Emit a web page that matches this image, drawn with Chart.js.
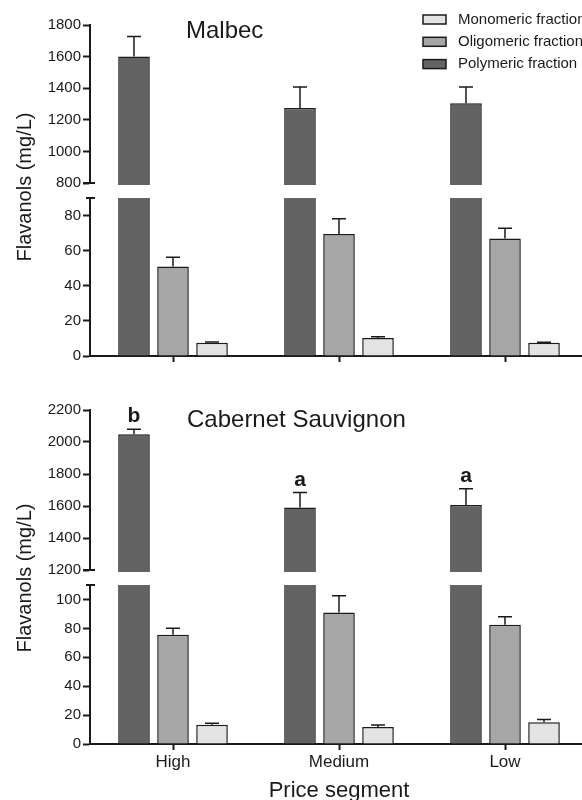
<!DOCTYPE html>
<html>
<head>
<meta charset="utf-8">
<script src="https://cdn.jsdelivr.net/npm/chart.js@4.4.1/dist/chart.umd.min.js"></script>
<style>
  html, body { margin: 0; padding: 0; background: #fff; }
  #wrap { position: relative; width: 582px; height: 800px; overflow: hidden; }
  #wrap canvas { position: absolute; left: 0; }
</style>
</head>
<body>
<div id="wrap">
  <canvas id="malbecLower" width="600" height="390" style="top:0px"></canvas>
  <canvas id="malbecUpper" width="600" height="200" style="top:0px"></canvas>
  <canvas id="cabLower" width="600" height="420" style="top:390px"></canvas>
  <canvas id="cabUpper" width="600" height="200" style="top:390px"></canvas>
</div>
<script>
const categories = ['High', 'Medium', 'Low'];
const seriesNames = ['Polymeric fraction', 'Oligomeric fraction', 'Monomeric fraction'];

// Malbec (mean, upper error)
const malbecPolymeric = [1600, 1275, 1305];
const malbecPolymericSd = [127, 132, 102];
const malbecOligomeric = [51, 69.5, 67];
const malbecOligomericSd = [5.2, 8.7, 5.8];
const malbecMonomeric = [7.5, 10.2, 7.6];
const malbecMonomericSd = [0.5, 0.8, 0.2];
const malbecUpperTicks = [800, 1800, 200];   // min, max, step
const malbecLowerTicks = [0, 90, 20];

// Cabernet Sauvignon
const cabPolymeric = [2048, 1590, 1606];
const cabPolymericSd = [31, 94, 102];
const cabOligomeric = [75.5, 91, 82.5];
const cabOligomericSd = [4.5, 11.5, 5.6];
const cabMonomeric = [13.4, 11.8, 15.1];
const cabMonomericSd = [1, 1.4, 1.8];
const cabLetters = ['b', 'a', 'a'];
const cabUpperTicks = [1200, 2200, 200];
const cabLowerTicks = [0, 110, 20];

const FONT = "'Liberation Sans', Arial, sans-serif";
const INK = '#1a1a1a';
const fills = ['#636363', '#a6a6a6', '#e3e3e3'];

function buildDatasets(values, part) {
    return values.map((v, i) => {
        const hide = part === 'top' && i > 0;
        return {
            label: seriesNames[i],
            data: v,
            backgroundColor: hide ? 'rgba(0,0,0,0)' : fills[i],
            borderColor: INK,
            borderWidth: hide ? 0 : 1.5,
            borderSkipped: part === 'top' ? false : 'start',
            clip: part === 'top' ? 2 : 0,
            categoryPercentage: 0.705,
            barPercentage: 0.81
        };
    });
}

function yAxis(t, lower) {
    return {
        min: t[0], max: t[1],
        border: { color: INK, width: 2 },
        grid: { drawOnChartArea: false, tickLength: 7, tickWidth: 2, tickColor: INK },
        ticks: { stepSize: t[2], includeBounds: !lower, color: INK, padding: 2,
                 font: { family: FONT, size: 15 },
                 callback: v => String(v) },
        afterFit(s) { s.width = 90; }
    };
}

function xAxis(mode, height) {
    if (mode === 'hidden') return { display: false };
    return {
        border: { color: INK, width: 2 },
        grid: { drawOnChartArea: false, offset: false, tickLength: 6, tickWidth: 2, tickColor: INK },
        ticks: { display: mode === 'labels', color: INK, padding: 2, font: { family: FONT, size: 17 } },
        title: { display: mode === 'labels', text: 'Price segment', color: INK,
                 font: { family: FONT, size: 22 }, padding: { top: 0, bottom: 6 } },
        afterFit(s) { s.height = height; }
    };
}

// error bars (one-sided, upward) + optional significance letters
function errorBarsFor(sds, showIdx, letters) {
    return {
        id: 'errorBars',
        afterDatasetsDraw(chart) {
            const ctx = chart.ctx;
            const y = chart.scales.y;
            ctx.save();
            ctx.strokeStyle = INK;
            ctx.lineWidth = 1.5;
            showIdx.forEach(di => {
                const vals = chart.data.datasets[di].data;
                chart.getDatasetMeta(di).data.forEach((bar, k) => {
                    const hi = vals[k] + sds[di][k];
                    if (hi > y.max) return;
                    const yTop = y.getPixelForValue(hi);
                    ctx.beginPath();
                    ctx.moveTo(bar.x, bar.y);
                    ctx.lineTo(bar.x, yTop);
                    ctx.moveTo(bar.x - 7, yTop);
                    ctx.lineTo(bar.x + 7, yTop);
                    ctx.stroke();
                    if (letters) {
                        ctx.fillStyle = INK;
                        ctx.font = 'bold 21px ' + FONT;
                        ctx.textAlign = 'center';
                        ctx.textBaseline = 'alphabetic';
                        ctx.fillText(letters[k], bar.x, yTop - 7);
                    }
                });
            });
            ctx.restore();
        }
    };
}

// titles, legend, y title, axis break caps
function decorationsFor(d) {
    return {
        id: 'decorations',
        afterDraw(chart) {
            const { ctx, chartArea } = chart;
            const ax = chartArea.left;
            ctx.save();
            ctx.strokeStyle = INK;
            ctx.lineWidth = 2;
            ctx.beginPath();
            if (d.cap === 'bottom') {
                ctx.moveTo(ax - 7, chartArea.bottom);
                ctx.lineTo(ax + 5, chartArea.bottom);
            } else {
                ctx.moveTo(ax - 4, chartArea.top);
                ctx.lineTo(ax + 5, chartArea.top);
            }
            ctx.stroke();
            ctx.fillStyle = INK;
            if (d.title) {
                ctx.font = '24px ' + FONT;
                ctx.textAlign = 'left';
                ctx.textBaseline = 'middle';
                ctx.fillText(d.title, d.titleX, d.titleY);
            }
            if (d.yTitleY) {
                ctx.save();
                ctx.translate(25, d.yTitleY);
                ctx.rotate(-Math.PI / 2);
                ctx.font = '20px ' + FONT;
                ctx.textAlign = 'center';
                ctx.textBaseline = 'middle';
                ctx.fillText('Flavanols (mg/L)', 0, 0);
                ctx.restore();
            }
            if (d.legend) {
                const rows = [2, 1, 0];
                rows.forEach((i, r) => {
                    const cy = 19.5 + r * 22.3;
                    ctx.fillStyle = fills[i];
                    ctx.fillRect(423, cy - 4.5, 23, 9);
                    ctx.lineWidth = 1.5;
                    ctx.strokeRect(423, cy - 4.5, 23, 9);
                    ctx.fillStyle = INK;
                    ctx.font = '15px ' + FONT;
                    ctx.textAlign = 'left';
                    ctx.textBaseline = 'middle';
                    ctx.fillText(seriesNames[i], 458, cy);
                });
            }
            ctx.restore();
        }
    };
}

function makeChart(id, part, values, sds, ticks, padding, x, deco, letters) {
    return new Chart(document.getElementById(id), {
        type: 'bar',
        data: { labels: categories, datasets: buildDatasets(values, part) },
        options: {
            responsive: false,
            animation: false,
            events: [],
            layout: { padding: padding },
            scales: { x: x, y: yAxis(ticks, part === 'bottom') },
            plugins: { legend: { display: false }, tooltip: { enabled: false } }
        },
        plugins: [errorBarsFor(sds, part === 'top' ? [0] : [1, 2], letters), decorationsFor(deco)]
    });
}

const malbecValues = [malbecPolymeric, malbecOligomeric, malbecMonomeric];
const malbecSds = [malbecPolymericSd, malbecOligomericSd, malbecMonomericSd];
const cabValues = [cabPolymeric, cabOligomeric, cabMonomeric];
const cabSds = [cabPolymericSd, cabOligomericSd, cabMonomericSd];

makeChart('malbecLower', 'bottom', malbecValues, malbecSds, malbecLowerTicks,
    { top: 198, bottom: 0, left: 0, right: 12 }, xAxis('marks', 34),
    { cap: 'top', yTitleY: 187 });
makeChart('malbecUpper', 'top', malbecValues, malbecSds, malbecUpperTicks,
    { top: 25, bottom: 17, left: 0, right: 12 }, xAxis('hidden'),
    { cap: 'bottom', title: 'Malbec', titleX: 186, titleY: 31, legend: true });
makeChart('cabLower', 'bottom', cabValues, cabSds, cabLowerTicks,
    { top: 195, bottom: 0, left: 0, right: 12 }, xAxis('labels', 66),
    { cap: 'top', yTitleY: 188 });
makeChart('cabUpper', 'top', cabValues, cabSds, cabUpperTicks,
    { top: 20, bottom: 20, left: 0, right: 12 }, xAxis('hidden'),
    { cap: 'bottom', title: 'Cabernet Sauvignon', titleX: 187, titleY: 30 }, cabLetters);
</script>
</body>
</html>
